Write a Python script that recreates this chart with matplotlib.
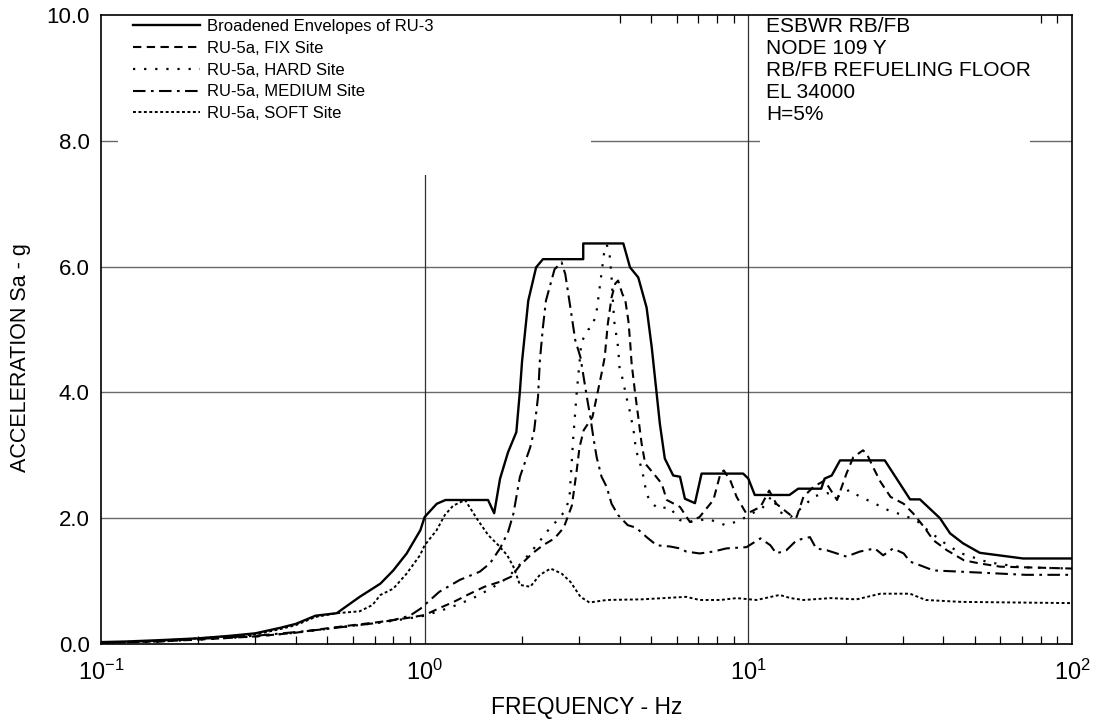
import matplotlib
matplotlib.use("Agg")
import matplotlib.pyplot as plt
from matplotlib.patches import Rectangle

# ---------------- data ----------------
ENV_F = [0.1, 0.12, 0.15, 0.2, 0.25, 0.3, 0.36, 0.4, 0.46, 0.535, 0.63, 0.73, 0.80, 0.88, 0.97, 1.0,
         1.09, 1.16, 1.57, 1.64, 1.71, 1.81, 1.92, 1.97, 2.0, 2.09, 2.21, 2.32, 3.09, 3.09, 4.11, 4.31,
         4.57, 4.85, 5.03, 5.21, 5.33, 5.52, 5.86, 6.15, 6.37, 6.84, 7.17, 9.64, 10.0, 10.47, 13.4,
         14.26, 16.8, 17.2, 18.1, 19.2, 26.4, 31.6, 33.9, 39.1, 42.0, 46.1, 51.9, 70.6, 100.0]
ENV_A = [0.03, 0.04, 0.06, 0.09, 0.13, 0.17, 0.26, 0.32, 0.45, 0.49, 0.75, 0.96, 1.17, 1.44, 1.81, 2.02,
         2.23, 2.29, 2.29, 2.08, 2.63, 3.05, 3.37, 4.03, 4.5, 5.46, 5.99, 6.12, 6.12, 6.37, 6.37, 5.99,
         5.83, 5.35, 4.72, 3.98, 3.5, 2.95, 2.68, 2.66, 2.31, 2.24, 2.71, 2.71, 2.63, 2.37, 2.37,
         2.47, 2.47, 2.63, 2.68, 2.92, 2.92, 2.30, 2.30, 2.0, 1.76, 1.6, 1.45, 1.36, 1.36]

FIX_F = [0.1, 0.15, 0.2, 0.3, 0.4, 0.5, 0.6, 0.7, 0.8, 0.9, 1.0, 1.11, 1.23, 1.38, 1.53, 1.71, 1.85,
         1.97, 2.15, 2.32, 2.52, 2.69, 2.85, 2.95, 3.01, 3.1, 3.3, 3.4, 3.52, 3.6, 3.68, 3.78, 3.88,
         3.96, 4.08, 4.17, 4.26, 4.31, 4.36, 4.46, 4.57, 4.68, 4.8, 5.1, 5.4, 5.6, 6.15, 6.6, 7.07,
         7.8, 8.2, 8.4, 8.8, 9.2, 9.87, 10.9, 11.6, 12.2, 13.5, 14.1, 14.8, 15.9, 17.2, 18.8, 20.1,
         21.1, 22.6, 23.2, 24.3, 25.6, 27.5, 30.2, 32.4, 34.9, 37.3, 41.1, 46.4, 52.0, 60.0, 100.0]
FIX_A = [0.02, 0.04, 0.07, 0.12, 0.18, 0.25, 0.30, 0.34, 0.38, 0.42, 0.46, 0.57, 0.67, 0.80, 0.91, 0.99, 1.07,
         1.25, 1.44, 1.57, 1.68, 1.85, 2.2, 2.76, 3.13, 3.4, 3.61, 3.93, 4.30, 4.56, 5.09, 5.51, 5.73,
         5.78, 5.57, 5.46, 5.14, 4.83, 4.46, 4.03, 3.61, 3.19, 2.87, 2.71, 2.55, 2.29, 2.18, 1.94, 2.02,
         2.29, 2.71, 2.76, 2.60, 2.34, 2.07, 2.18, 2.44, 2.23, 2.05, 2.02, 2.34, 2.50, 2.60, 2.29, 2.71,
         2.97, 3.08, 3.03, 2.81, 2.58, 2.34, 2.23, 2.07, 1.86, 1.65, 1.49, 1.33, 1.28, 1.23, 1.20]

HARD_F = [0.1, 0.15, 0.2, 0.3, 0.4, 0.5, 0.6, 0.7, 0.8, 0.9, 1.0, 1.2, 1.4, 1.6, 1.8, 2.0, 2.2, 2.4,
          2.55, 2.7, 2.8, 2.88, 2.95, 3.05, 3.2, 3.3, 3.4, 3.5, 3.58, 3.65, 3.72, 3.78, 3.85, 3.96, 4.0,
          4.1, 4.2, 4.3, 4.42, 4.5, 4.7, 4.85, 4.95, 5.25, 5.7, 6.15, 6.6, 7.5, 8.5, 9.5, 10.0, 11.0,
          11.8, 12.5, 13.5, 14.5, 16.0, 17.5, 19.0, 20.5, 22.0, 24.0, 27.0, 30.0, 33.0, 36.0, 40.0,
          45.0, 55.0, 70.0, 100.0]
HARD_A = [0.02, 0.04, 0.07, 0.12, 0.18, 0.24, 0.29, 0.33, 0.37, 0.41, 0.45, 0.58, 0.72, 0.88, 1.05, 1.3, 1.55, 1.8,
          1.95, 2.1, 2.3, 3.3, 4.0, 4.8, 5.0, 5.05, 5.3, 5.8, 6.2, 6.35, 6.25, 5.83, 5.14, 4.72, 4.40,
          4.19, 3.93, 3.71, 3.40, 3.08, 2.76, 2.39, 2.29, 2.15, 2.18, 1.97, 1.94, 1.99, 1.89, 1.97, 2.05, 2.15,
          2.35, 2.10, 2.02, 2.15, 2.35, 2.40, 2.35, 2.45, 2.35, 2.26, 2.13, 2.05, 1.97, 1.80, 1.62,
          1.45, 1.30, 1.22, 1.20]

MED_F = [0.1, 0.15, 0.2, 0.3, 0.4, 0.5, 0.6, 0.7, 0.8, 0.9, 0.97, 1.11, 1.285, 1.48, 1.59, 1.71, 1.81,
         1.88, 1.97, 2.12, 2.18, 2.24, 2.27, 2.32, 2.37, 2.52, 2.65, 2.72, 2.82, 2.92, 3.03, 3.10, 3.17,
         3.25, 3.32, 3.40, 3.52, 3.65, 3.78, 3.96, 4.24, 4.5, 4.85, 5.21, 5.74, 6.15, 6.43, 7.07, 7.8,
         8.55, 9.87, 10.9, 11.7, 12.2, 13.1, 14.1, 15.5, 16.2, 17.5, 20.1, 22.1, 24.6, 26.1, 28.0, 30.2,
         31.6, 34.0, 37.3, 45.3, 71.9, 100.0]
MED_A = [0.02, 0.04, 0.08, 0.13, 0.19, 0.24, 0.29, 0.33, 0.38, 0.45, 0.56, 0.83, 1.02, 1.15, 1.28, 1.52, 1.78,
         2.07, 2.66, 3.13, 3.40, 3.93, 4.51, 5.04, 5.46, 5.96, 6.07, 5.88, 5.35, 4.83, 4.56, 4.24, 3.93,
         3.61, 3.29, 2.97, 2.66, 2.50, 2.23, 2.05, 1.89, 1.85, 1.70, 1.57, 1.55, 1.52, 1.47, 1.44, 1.47,
         1.52, 1.54, 1.68, 1.57, 1.44, 1.49, 1.65, 1.70, 1.52, 1.49, 1.39, 1.47, 1.52, 1.41, 1.52, 1.44,
         1.31, 1.25, 1.17, 1.15, 1.10, 1.10]

SOFT_F = [0.1, 0.15, 0.2, 0.3, 0.36, 0.4, 0.46, 0.535, 0.63, 0.69, 0.73, 0.80, 0.88, 0.967, 1.0, 1.089,
          1.154, 1.225, 1.333, 1.46, 1.573, 1.69, 1.80, 1.88, 1.97, 2.12, 2.27, 2.45, 2.65, 2.82, 3.03,
          3.23, 3.65, 4.68, 6.43, 7.07, 8.2, 9.2, 10.6, 12.5, 13.5, 14.8, 18.0, 21.6, 25.6, 31.6, 35.3,
          45.3, 100.0]
SOFT_A = [0.02, 0.05, 0.09, 0.15, 0.24, 0.30, 0.43, 0.49, 0.52, 0.62, 0.78, 0.88, 1.12, 1.41, 1.57, 1.81,
          2.05, 2.2, 2.29, 1.97, 1.73, 1.57, 1.41, 1.23, 0.94, 0.91, 1.1, 1.2, 1.12, 0.99, 0.75,
          0.66, 0.70, 0.71, 0.75, 0.70, 0.70, 0.73, 0.70, 0.78, 0.73, 0.70, 0.73, 0.71, 0.80, 0.80, 0.70,
          0.67, 0.65]

LABELS = ["Broadened Envelopes of RU-3", "RU-5a, FIX Site", "RU-5a, HARD Site",
          "RU-5a, MEDIUM Site", "RU-5a, SOFT Site"]
INFO = ["ESBWR RB/FB", "NODE 109 Y", "RB/FB REFUELING FLOOR", "EL 34000", "H=5%"]
YTICKS = [0.0, 2.0, 4.0, 6.0, 8.0, 10.0]
XTICKS = [0.1, 1, 10, 100]
XTICKLABELS = [r"$\mathregular{10^{-1}}$", r"$\mathregular{10^{0}}$",
               r"$\mathregular{10^{1}}$", r"$\mathregular{10^{2}}$"]

# ---------------- figure ----------------
plt.rcParams["font.family"] = ["Liberation Sans", "DejaVu Sans"]
plt.rcParams["mathtext.fontset"] = "custom"
plt.rcParams["mathtext.rm"] = "Liberation Sans"
LEG_FS = 12
INFO_FS = 15

fig = plt.figure(figsize=(10.95, 7.24), dpi=100)
ax = fig.add_axes([0.0922, 0.1105, 0.8868, 0.8685])

ax.set_xscale("log")
ax.set_xlim(0.1, 100)
ax.set_ylim(0, 10)

# grid lines
for yv in YTICKS[1:-1]:
    ax.axhline(yv, color="#6a6a6a", lw=1.0, zorder=1)
for xv in XTICKS[1:-1]:
    ax.axvline(xv, color="#303030", lw=0.9, zorder=1)

# white boxes behind legend / info text (hide grid lines there)
ax.add_patch(Rectangle((0.0175, 0.746), 0.487, 0.26, transform=ax.transAxes,
                       facecolor="white", edgecolor="none", zorder=2))
ax.add_patch(Rectangle((0.679, 0.785), 0.278, 0.22, transform=ax.transAxes,
                       facecolor="white", edgecolor="none", zorder=2))

ax.plot(ENV_F, ENV_A, color="black", lw=1.7, ls="-", label=LABELS[0], zorder=4)
ax.plot(FIX_F, FIX_A, color="black", lw=1.5, ls=(0, (4.0, 2.6)), label=LABELS[1], zorder=3)
ax.plot(HARD_F, HARD_A, color="black", lw=1.6, ls=(0, (1.0, 4.0)), label=LABELS[2], zorder=3)
ax.plot(MED_F, MED_A, color="black", lw=1.5, ls=(0, (6, 2.6, 1.3, 2.6)), label=LABELS[3], zorder=3)
ax.plot(SOFT_F, SOFT_A, color="black", lw=1.4, ls=(0, (1.5, 1.3)), label=LABELS[4], zorder=3)

leg = ax.legend(loc="upper left", bbox_to_anchor=(0.033, 0.994), frameon=False,
                fontsize=LEG_FS, handlelength=4.0, handletextpad=0.42, labelspacing=0.41,
                borderaxespad=0.0, borderpad=0.0)
leg.set_zorder(6)

ax.text(0.685, 0.9976, "\n".join(INFO), transform=ax.transAxes, ha="left", va="top",
        fontsize=INFO_FS, linespacing=1.2, zorder=6)

# ticks
ax.set_xticks(XTICKS)
ax.set_xticklabels(XTICKLABELS, fontsize=17)
ax.set_yticks(YTICKS)
ax.set_yticklabels([f"{v:.1f}" for v in YTICKS], fontsize=16)
ax.tick_params(axis="x", which="both", direction="in", top=True, bottom=True, pad=11)
ax.tick_params(axis="x", which="major", length=0)
ax.tick_params(axis="x", which="minor", length=6, width=0.9)
ax.tick_params(axis="y", which="both", length=0, pad=8)

for sp in ax.spines.values():
    sp.set_linewidth(1.2)

ax.set_xlabel("FREQUENCY - Hz", fontsize=16.5, labelpad=8)
ax.set_ylabel("ACCELERATION Sa - g", fontsize=15.5)
ax.yaxis.set_label_coords(-0.072, 0.456)

fig.savefig("out.png", dpi=100)
